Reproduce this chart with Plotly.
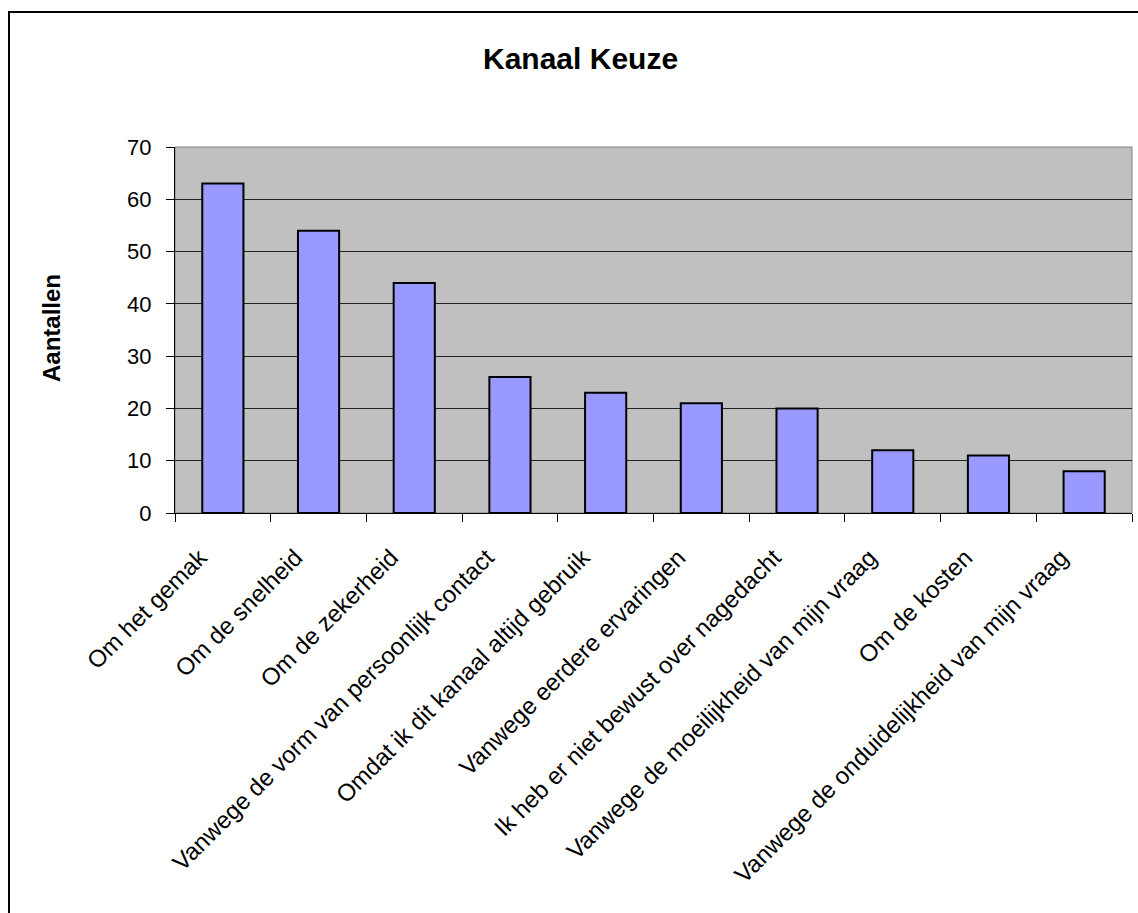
import plotly.graph_objects as go

categories = [
    "Om het gemak",
    "Om de snelheid",
    "Om de zekerheid",
    "Vanwege de vorm van persoonlijk contact",
    "Omdat ik dit kanaal altijd gebruik",
    "Vanwege eerdere ervaringen",
    "Ik heb er niet bewust over nagedacht",
    "Vanwege de moeilijkheid van mijn vraag",
    "Om de kosten",
    "Vanwege de onduidelijkheid van mijn vraag",
]
counts = [63, 54, 44, 26, 23, 21, 20, 12, 11, 8]
y_ticks = [0, 10, 20, 30, 40, 50, 60, 70]

W, H = 1138, 913
L, R, T, B = 175, 1132, 147, 513  # plot area in pixels
pw, ph = R - L, B - T


def px_x(x):
    return (x - L) / pw


def px_y(y):
    return (B - y) / ph


FONT = "Arial, Liberation Sans, sans-serif"

fig = go.Figure(
    go.Bar(
        x=categories,
        y=counts,
        marker=dict(color="#9999FF", line=dict(color="black", width=2)),
        width=0.43,
    )
)

fig.update_layout(
    width=W,
    height=H,
    margin=dict(l=L, r=W - R, t=T, b=H - B, pad=0),
    paper_bgcolor="white",
    plot_bgcolor="#C0C0C0",
    showlegend=False,
    font=dict(family=FONT, color="black"),
    xaxis=dict(
        type="category",
        tickangle=-45,
        tickfont=dict(size=24, family=FONT, color="black"),
        ticks="outside",
        ticklen=8,
        tickcolor="black",
        tickson="boundaries",
        ticklabelshift=-23,
        ticklabelstandoff=20,
        showline=True,
        linecolor="black",
        linewidth=1,
        showgrid=False,
        fixedrange=True,
    ),
    yaxis=dict(
        range=[0, 70],
        tickvals=y_ticks,
        tickfont=dict(size=22, family=FONT, color="black"),
        ticks="outside",
        ticklen=8,
        tickcolor="black",
        ticklabelstandoff=10,
        showline=True,
        linecolor="black",
        linewidth=1,
        showgrid=True,
        gridcolor="#222222",
        gridwidth=1,
        zeroline=False,
        fixedrange=True,
    ),
    shapes=[
        # outer chart frame
        dict(
            type="rect", xref="paper", yref="paper",
            x0=px_x(9), x1=px_x(1160), y0=px_y(940), y1=px_y(12),
            line=dict(color="black", width=2), fillcolor="rgba(0,0,0,0)",
            layer="below",
        ),
        # plot area border
        dict(
            type="rect", xref="paper", yref="paper",
            x0=0, x1=1, y0=0, y1=1,
            line=dict(color="#808080", width=1), fillcolor="rgba(0,0,0,0)",
            layer="below",
        ),
    ],
    annotations=[
        dict(
            text="<b>Kanaal Keuze</b>", xref="paper", yref="paper",
            x=px_x(580), y=px_y(58), xanchor="center", yanchor="middle",
            showarrow=False, font=dict(size=30, family=FONT, color="black"),
        ),
        dict(
            text="<b>Aantallen</b>", xref="paper", yref="paper",
            x=px_x(51), y=px_y(328), xanchor="center", yanchor="middle",
            textangle=-90, showarrow=False,
            font=dict(size=24, family=FONT, color="black"),
        ),
    ],
)

fig.write_html("out.html")
